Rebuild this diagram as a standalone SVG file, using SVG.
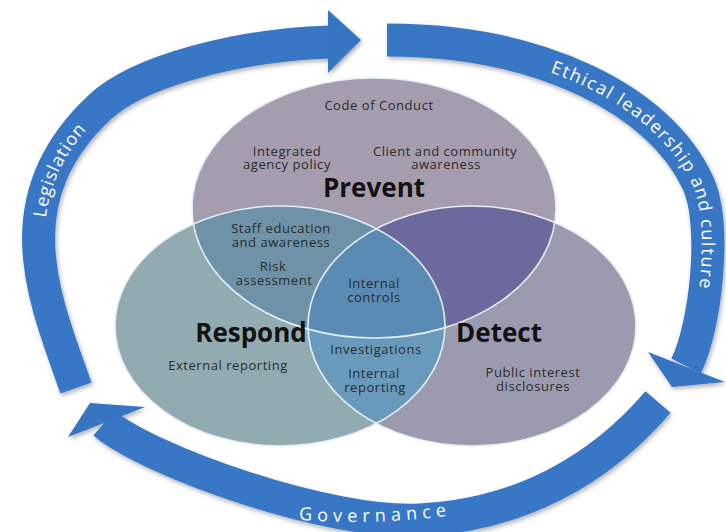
<svg xmlns="http://www.w3.org/2000/svg" xmlns:xlink="http://www.w3.org/1999/xlink" width="726" height="532" viewBox="0 0 726 532">
  <style>
    .lbl { font-family: "Open Sans", "Liberation Sans", sans-serif; font-size: 13px; fill: #2b2b2b; text-anchor: middle; letter-spacing: 0.55px; }
    .head { font-family: "Open Sans", "Liberation Sans", sans-serif; font-size: 26px; font-weight: 700; fill: #121212; text-anchor: middle; }
    .band { fill: none; stroke: #3877c5; stroke-width: 33; stroke-linecap: butt; }
    .tip { fill: #3574c2; }
    .bandtxt { font-family: "Open Sans", "Liberation Sans", sans-serif; font-size: 18px; fill: #ffffff; }
    .rim { fill: none; stroke: #e4eef7; stroke-width: 1.6; }
  </style>
  <defs>
    <ellipse id="shapeP" cx="374" cy="208" rx="182" ry="130"/>
    <ellipse id="shapeR" cx="280" cy="326" rx="165" ry="120"/>
    <ellipse id="shapeD" cx="472" cy="326" rx="164" ry="120"/>
    <clipPath id="clipP"><use href="#shapeP"/></clipPath>
    <clipPath id="clipR"><use href="#shapeR"/></clipPath>
    <filter id="shadow" x="-10%" y="-10%" width="125%" height="130%">
      <feDropShadow dx="1.5" dy="2.5" stdDeviation="2" flood-color="#000" flood-opacity="0.3"/>
    </filter>
    <path id="legPath" d="M76,388 C45,300 0,200 100,107 C140,70 240,45 330,42"/>
    <path id="ethPath" d="M387,40 C540,40 660,100 698,183 C717,224 706,326 686,366"/>
    <path id="govPath" d="M658,402 C600,470 520,515 420,520 C330,525 150,462 104,423"/>
    <path id="govText" d="M250,514 Q372,533 500,507"/>
  </defs>

  <!-- Venn fills: three circles and their shared zones -->
  <g id="venn-fills">
    <use href="#shapeP" fill="#a59cae"/>
    <use href="#shapeR" fill="#91abb1"/>
    <use href="#shapeD" fill="#9b9bb0"/>
    <g clip-path="url(#clipP)"><use href="#shapeR" fill="#6e92a8"/></g>
    <g clip-path="url(#clipP)"><use href="#shapeD" fill="#6c6a9d"/></g>
    <g clip-path="url(#clipR)"><use href="#shapeD" fill="#6a9abb"/></g>
    <g clip-path="url(#clipP)"><g clip-path="url(#clipR)"><use href="#shapeD" fill="#5a8bb4"/></g></g>
  </g>

  <!-- Prevent circle -->
  <g id="prevent">
    <use href="#shapeP" class="rim"/>
    <text class="lbl" x="379" y="110">Code of Conduct</text>
    <text class="lbl" x="287" y="156">Integrated</text>
    <text class="lbl" x="287" y="169">agency policy</text>
    <text class="lbl" x="445" y="156">Client and community</text>
    <text class="lbl" x="446" y="169">awareness</text>
    <text class="head" x="374" y="197">Prevent</text>
  </g>

  <!-- Respond circle -->
  <g id="respond">
    <use href="#shapeR" class="rim"/>
    <text class="head" x="251" y="342">Respond</text>
    <text class="lbl" x="228" y="370">External reporting</text>
  </g>

  <!-- Detect circle -->
  <g id="detect">
    <use href="#shapeD" class="rim"/>
    <text class="head" x="499" y="342">Detect</text>
    <text class="lbl" x="533" y="377">Public interest</text>
    <text class="lbl" x="533" y="391">disclosures</text>
  </g>

  <!-- Labels of the shared zones -->
  <g id="overlaps">
    <text class="lbl" x="281" y="233">Staff education</text>
    <text class="lbl" x="281" y="247">and awareness</text>
    <text class="lbl" x="273" y="271">Risk</text>
    <text class="lbl" x="274" y="285">assessment</text>
    <text class="lbl" x="374" y="288">Internal</text>
    <text class="lbl" x="374" y="302">controls</text>
    <text class="lbl" x="376" y="354">Investigations</text>
    <text class="lbl" x="374" y="378">Internal</text>
    <text class="lbl" x="375" y="392">reporting</text>
  </g>

  <!-- Cycle arrows round the circles -->
  <g id="connectors">
    <g filter="url(#shadow)">
      <use href="#legPath" class="band"/>
      <polygon class="tip" points="328,10 361,40 328,73"/>
      <use href="#ethPath" class="band"/>
      <polygon class="tip" points="648,352 672,387 725,382"/>
      <use href="#govPath" class="band"/>
      <polygon class="tip" points="68,437 90,403 145,407"/>
    </g>
    <text class="bandtxt" font-size="19" dy="6" letter-spacing="1.2"><textPath href="#legPath" startOffset="228" text-anchor="middle">Legislation</textPath></text>
    <text class="bandtxt" dy="6" letter-spacing="1.7"><textPath href="#ethPath" startOffset="168">Ethical leadership and culture</textPath></text>
    <text class="bandtxt" font-size="20" letter-spacing="5.2"><textPath href="#govText" startOffset="50%" text-anchor="middle">Governance</textPath></text>
  </g>
</svg>
